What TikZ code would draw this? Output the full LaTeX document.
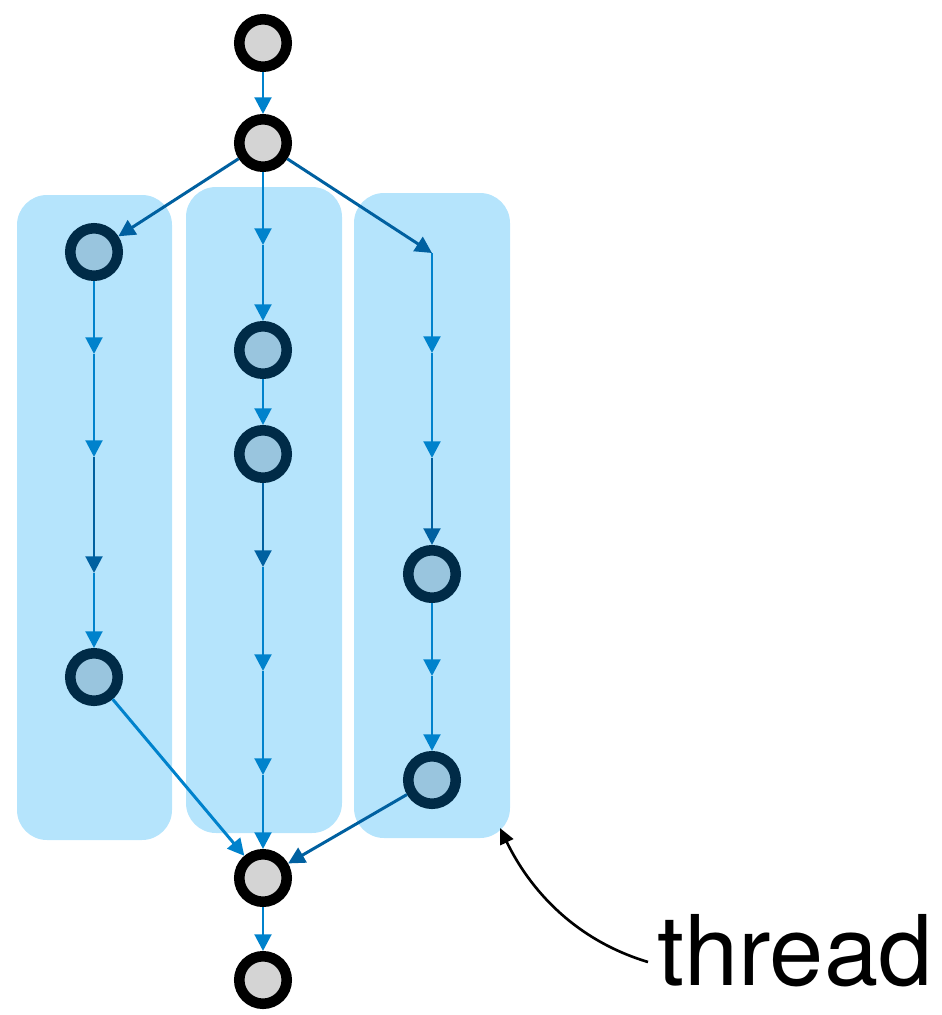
\documentclass[tikz,border=0pt]{standalone}
\usepackage{fontspec}
\setmainfont{TeX Gyre Heros}
\usetikzlibrary{arrows.meta}
\definecolor{boxblue}{RGB}{181,228,252}
\definecolor{edgeblue}{RGB}{0,130,204}
\definecolor{edgedark}{RGB}{0,96,160}
\definecolor{ringnavy}{RGB}{0,43,71}
\definecolor{innerblue}{RGB}{153,197,222}
\definecolor{innergray}{RGB}{212,212,212}
\begin{document}
\begin{tikzpicture}[x=0.02cm,y=-0.02cm,
  graynode/.style={circle,draw=black,fill=innergray,line width=6pt,minimum size=0.95cm,inner sep=0pt},
  bluenode/.style={circle,draw=ringnavy,fill=innerblue,line width=6pt,minimum size=0.95cm,inner sep=0pt},
  flow/.style={draw=edgeblue,line width=1.7pt,-{Triangle[width=9.5pt,length=9.5pt]}},
  flowdark/.style={flow,draw=edgedark},
  threadbox/.style={fill=boxblue,rounded corners=0.6cm},
  pointer/.style={draw=black,line width=1.5pt,-{Triangle[width=8pt,length=9pt]}}]
\useasboundingbox (0,0) rectangle (941,1015);
% thread boxes
\fill[threadbox] (17,195) rectangle (172,840);
\fill[threadbox] (186,187) rectangle (342,833);
\fill[threadbox] (354,193) rectangle (510,838);
% nodes
\node[graynode] (T) at (263,43) {};
\node[graynode] (N) at (263,143) {};
\node[bluenode] (L1) at (94,252) {};
\node[bluenode] (L2) at (94,677) {};
\node[bluenode] (M1) at (263,350) {};
\node[bluenode] (M2) at (263,454) {};
\node[bluenode] (R1) at (432,574) {};
\node[bluenode] (R2) at (432,780) {};
\node[graynode] (B1) at (263,878) {};
\node[graynode] (B2) at (263,980) {};
% intermediate points
\coordinate (l1) at (94,354);
\coordinate (l2) at (94,457);
\coordinate (l3) at (94,573);
\coordinate (m1) at (263,245);
\coordinate (m4) at (263,567);
\coordinate (m5) at (263,671);
\coordinate (m6) at (263,775);
\coordinate (r0) at (432,253);
\coordinate (r1) at (432,353);
\coordinate (r2) at (432,458);
\coordinate (r4) at (432,676);
\coordinate (corner) at (500,828);
\coordinate (pstart) at (648,962);
% edges
\draw[flow] (T) -- (N);
\draw[flowdark] (N) -- (L1);
\draw[flow] (L1) -- (l1);
\draw[flow] (l1) -- (l2);
\draw[flowdark] (l2) -- (l3);
\draw[flow] (l3) -- (L2);
\draw[flow] (N) -- (m1);
\draw[flow] (m1) -- (M1);
\draw[flow] (M1) -- (M2);
\draw[flowdark] (M2) -- (m4);
\draw[flow] (m4) -- (m5);
\draw[flow] (m5) -- (m6);
\draw[flow] (m6) -- (B1);
\draw[flowdark] (N) -- (r0);
\draw[flow] (r0) -- (r1);
\draw[flow] (r1) -- (r2);
\draw[flowdark] (r2) -- (R1);
\draw[flow] (R1) -- (r4);
\draw[flow] (r4) -- (R2);
\draw[flow] (L2) -- (B1);
\draw[flowdark] (R2) -- (B1);
\draw[flow] (B1) -- (B2);
% label
\node[anchor=base west,inner sep=0pt,font=\fontsize{55.5}{62}\selectfont] (lbl) at (657,985) {thread};
\draw[pointer] (pstart) .. controls (575,940) and (530,890) .. (corner);
\end{tikzpicture}
\end{document}
